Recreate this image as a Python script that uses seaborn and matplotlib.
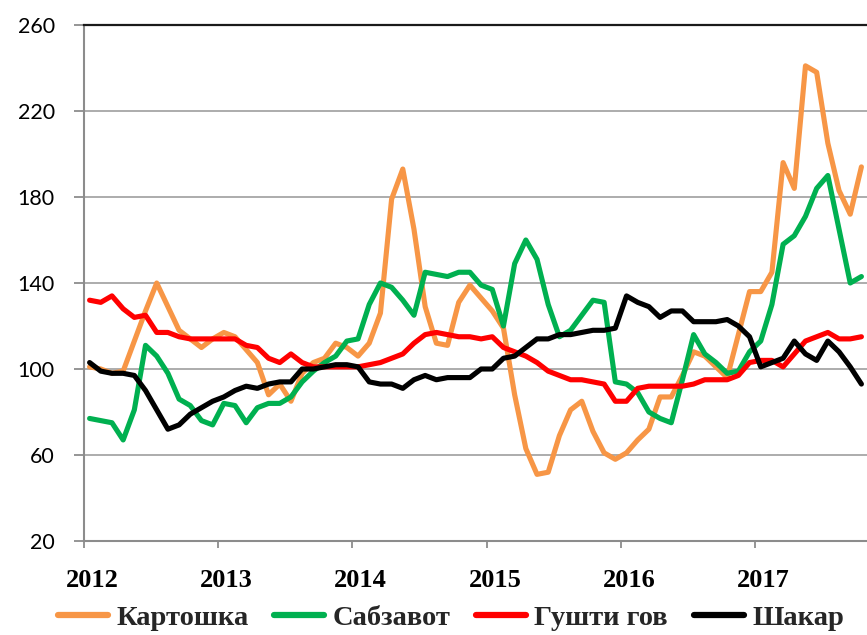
import numpy as np
import pandas as pd
import matplotlib
matplotlib.use("Agg")
import matplotlib.pyplot as plt
import seaborn as sns

# ---- data (monthly index values, Jan 2012 .. Oct 2017) ----
start_month = "2012-01"
n_months = 70

kartoshka = [101, 100, 98, 99, 113, 127, 140, 129, 118, 114, 110, 114,
             117, 115, 109, 103, 88, 93, 85, 98, 103, 105, 112, 110,
             106, 112, 126, 179, 193, 165, 129, 112, 111, 131, 139, 133,
             127, 119, 88, 63, 51, 52, 69, 81, 85, 71, 61, 58,
             61, 67, 72, 87, 87, 97, 108, 106, 101, 96, 116, 136,
             136, 145, 196, 184, 241, 238, 205, 183, 172, 194]
sabzavot = [77, 76, 75, 67, 81, 111, 106, 98, 86, 83, 76, 74,
            84, 83, 75, 82, 84, 84, 87, 94, 99, 103, 106, 113,
            114, 130, 140, 138, 132, 125, 145, 144, 143, 145, 145, 139,
            137, 120, 149, 160, 151, 130, 115, 118, 125, 132, 131, 94,
            93, 89, 80, 77, 75, 95, 116, 107, 103, 98, 99, 108,
            113, 130, 158, 162, 171, 184, 190, 165, 140, 143]
gushti_gov = [132, 131, 134, 128, 124, 125, 117, 117, 115, 114, 114, 114,
              114, 114, 111, 110, 105, 103, 107, 103, 101, 101, 101, 101,
              101, 102, 103, 105, 107, 112, 116, 117, 116, 115, 115, 114,
              115, 110, 108, 106, 103, 99, 97, 95, 95, 94, 93, 85,
              85, 91, 92, 92, 92, 92, 93, 95, 95, 95, 97, 103,
              104, 104, 101, 107, 113, 115, 117, 114, 114, 115]
shakar = [103, 99, 98, 98, 97, 90, 81, 72, 74, 79, 82, 85,
          87, 90, 92, 91, 93, 94, 94, 100, 100, 101, 102, 102,
          101, 94, 93, 93, 91, 95, 97, 95, 96, 96, 96, 100,
          100, 105, 106, 110, 114, 114, 116, 116, 117, 118, 118, 119,
          134, 131, 129, 124, 127, 127, 122, 122, 122, 123, 120, 115,
          101, 103, 105, 113, 107, 104, 113, 108, 101, 93]

series_names = ["Картошка", "Сабзавот", "Гушти гов", "Шакар"]
series_colors = ["#F79646", "#00B050", "#FF0000", "#000000"]
year_labels = ["2012", "2013", "2014", "2015", "2016", "2017"]
y_ticks = [20, 60, 100, 140, 180, 220, 260]

# ---- build table ----
dates = pd.date_range(start_month, periods=n_months, freq="MS")
xpos = dates.year + (dates.month - 0.5) / 12.0
df = pd.DataFrame({
    "x": np.tile(np.asarray(xpos, dtype=float), 4),
    "value": kartoshka + sabzavot + gushti_gov + shakar,
    "series": np.repeat(series_names, n_months),
})

sns.set_theme(style="white")
plt.rcParams["font.family"] = ["Liberation Serif", "DejaVu Serif"]

W, H = 867, 635
fig = plt.figure(figsize=(W / 100, H / 100), dpi=100)
ax = fig.add_axes([84 / W, 1 - 541 / H, 1 - 84 / W, (541 - 25) / H])

sns.lineplot(data=df, x="x", y="value", hue="series", hue_order=series_names,
             palette=series_colors, linewidth=3.7, sort=False, ax=ax, legend=True)
for ln in ax.lines:
    ln.set_solid_joinstyle("round")
    ln.set_solid_capstyle("round")

grid_col = "#A6A6A6"
ax.set_ylim(20, 260)
ax.set_yticks(y_ticks)
ax.set_xlim(2012, 2012 + n_months / 12.0)
years = [int(y) for y in year_labels]
ax.set_xticks(years)
ax.set_xticklabels([])
ax.set_xticks([y + 0.062 for y in years], minor=True)
ax.set_xticklabels(year_labels, minor=True)
ax.set_xlabel("")
ax.set_ylabel("")

ax.yaxis.grid(True, color=grid_col, linewidth=1.3)
ax.xaxis.grid(False)
ax.set_axisbelow(True)

for s in ["left", "bottom"]:
    ax.spines[s].set_color("#8C8C8C")
    ax.spines[s].set_linewidth(1.5)
ax.spines["top"].set_color("#1a1a1a")
ax.spines["top"].set_linewidth(1.6)
ax.spines["right"].set_visible(False)

ax.tick_params(axis="y", which="major", direction="out", length=7, width=1.3,
               color="#8C8C8C", pad=14, labelsize=15.5, labelcolor="black", left=True)
for lbl in ax.get_yticklabels():
    lbl.set_fontfamily("Lato")

ax.tick_params(axis="x", which="major", direction="out", length=5, width=1.3,
               color="#8C8C8C", bottom=True)
ax.tick_params(axis="x", which="minor", length=0, pad=20, labelsize=19,
               labelcolor="black", bottom=True)
for lbl in ax.get_xticklabels(minor=True):
    lbl.set_fontweight("bold")

handles, labels = ax.get_legend_handles_labels()
leg = ax.legend(handles, labels, loc="center", bbox_to_anchor=(451 / W, 0.026),
                bbox_transform=fig.transFigure, ncol=4, frameon=False,
                prop={"family": "Liberation Serif", "weight": "bold", "size": 20.5},
                handlelength=1.75, handletextpad=0.3, columnspacing=0.9,
                borderaxespad=0, borderpad=0)
for ln in leg.get_lines():
    ln.set_linewidth(4.5)

fig.savefig("out.png", dpi=100)
